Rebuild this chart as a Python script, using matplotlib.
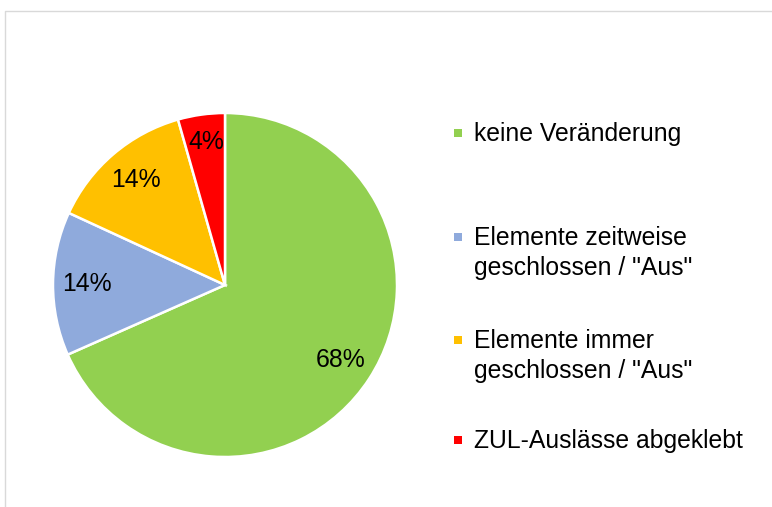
import matplotlib.pyplot as plt
from matplotlib.patches import Rectangle
from matplotlib.lines import Line2D

plt.rcParams['font.family'] = ['Liberation Sans', 'DejaVu Sans']

labels = ['keine Veränderung', 'Elemente zeitweise\ngeschlossen / "Aus"',
          'Elemente immer\ngeschlossen / "Aus"', 'ZUL-Auslässe abgeklebt']
shares = [68.3, 13.5, 13.7, 4.4]
colors = ['#92D050', '#8FAADC', '#FFC000', '#FF0000']

W, H = 772, 507
fig = plt.figure(figsize=(W / 100, H / 100), dpi=100)

# light grey chart-area border (top and left visible only)
fig.add_artist(Line2D([5 / W, 5 / W, 1], [0, 1 - 11 / H, 1 - 11 / H],
                      transform=fig.transFigure, color='#D9D9D9', lw=1))

ax = fig.add_axes([53 / W, 50 / H, 344 / W, 344 / H])
wedges, texts, autotexts = ax.pie(
    shares, colors=colors, startangle=90, counterclock=False,
    autopct='%.0f%%', pctdistance=0.8, radius=1,
    wedgeprops=dict(edgecolor='white', linewidth=1.8),
    textprops=dict(fontsize=17.8, color='black'))
autotexts[3].set_y(autotexts[3].get_position()[1] + 0.04)
ax.set_xlim(-1, 1)
ax.set_ylim(-1, 1)
ax.set_aspect('equal')
ax.axis('off')

# legend drawn by hand: marker aligned with first text line
first_line_y = [133, 237, 340, 440]
for lab, col, y in zip(labels, colors, first_line_y):
    fig.add_artist(Rectangle(((458 - 4) / W, 1 - (y + 4) / H), 8 / W, 8 / H,
                             transform=fig.transFigure, color=col, lw=0))
    fig.text(474 / W, 1 - (y - 11) / H, lab, fontsize=17.8, va='top',
             ha='left', linespacing=1.3)

fig.savefig('out.png', dpi=100)
